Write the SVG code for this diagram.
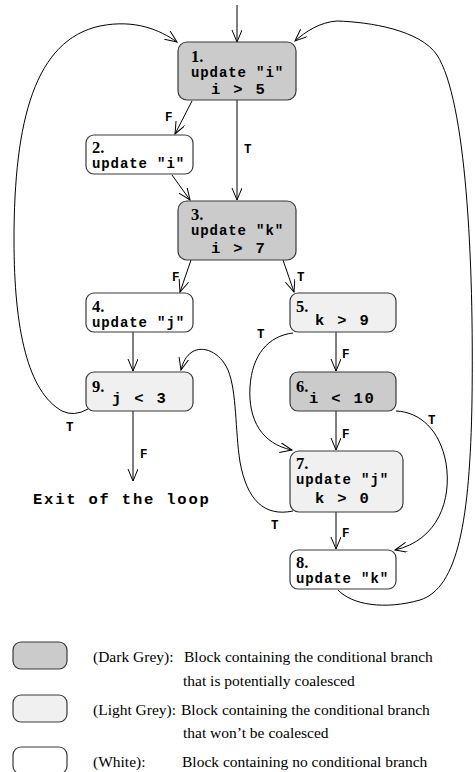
<svg xmlns="http://www.w3.org/2000/svg" width="475" height="772" viewBox="0 0 475 772">
  <style>
    .blk { stroke: #3a3a3a; stroke-width: 1.2; }
    .dark { fill: #cbcbcb; }
    .light { fill: #f0f0f0; }
    .white { fill: #ffffff; }
    .num { font-family: "Liberation Serif", serif; font-weight: bold; font-size: 16.5px; fill: #000; }
    .code { font-family: "Liberation Mono", monospace; font-weight: bold; font-size: 14px; letter-spacing: 0.9px; fill: #000; }
    .cond { font-family: "Liberation Mono", monospace; font-weight: bold; font-size: 15.5px; letter-spacing: 1.8px; fill: #000; }
    .lbl { font-family: "Liberation Mono", monospace; font-weight: bold; font-size: 12.5px; fill: #000; }
    .leg { font-family: "Liberation Serif", serif; font-size: 15.5px; fill: #000; }
    .edge { fill: none; stroke: #000; stroke-width: 1; marker-end: url(#arrow); }
  </style>
  <defs>
    <marker id="arrow" markerUnits="userSpaceOnUse" markerWidth="14" markerHeight="12" refX="12" refY="5" orient="auto">
      <path d="M0,0 L12,5 L0,10" fill="none" stroke="#000" stroke-width="1"/>
    </marker>
  </defs>

  <!-- connectors -->
  <g id="edges">
    <path class="edge" d="M237,5 L237,42"/>
    <path class="edge" d="M192,101 L175,134"/>
    <path class="edge" d="M237,100 L237,200"/>
    <path class="edge" d="M172,175 L190,200"/>
    <path class="edge" d="M191,260 L180,292"/>
    <path class="edge" d="M283,260 L294,292"/>
    <path class="edge" d="M133,332 L133,371"/>
    <path class="edge" d="M133,411 L133,481"/>
    <path class="edge" d="M336,332 L336,371"/>
    <path class="edge" d="M336,411 L336,450"/>
    <path class="edge" d="M336,512 L336,549"/>
    <!-- 9 -> 1 (T) -->
    <path class="edge" d="M88,409 Q74,417 62,411 C28,392 14,330 14,240 C14,120 35,40 100,26 C135,19 160,30 177,42"/>
    <!-- 8 -> 1 -->
    <path class="edge" d="M338,590 C352,605 385,610 420,600 C458,588 470,520 472,400 C474,260 466,100 437,55 C420,30 370,22 337,21 C320,22 305,32 295,41"/>
    <!-- 5 -> 7 (T) -->
    <path class="edge" d="M293,333 C268,336 252,355 250,387 C248,420 262,444 292,450"/>
    <!-- 6 -> 8 (T) -->
    <path class="edge" d="M396,411 C420,412 440,430 446,463 C452,500 438,540 395,550"/>
    <!-- 7 -> 9 (T) -->
    <path class="edge" d="M293,511 C264,517 247,500 240,462 C235,430 237,392 228,370 C220,352 203,345 192,352 C186,356 183,362 181,370"/>
    <!-- branch labels -->
    <text class="lbl" x="165" y="121">F</text>
    <text class="lbl" x="244" y="153">T</text>
    <text class="lbl" x="172" y="281">F</text>
    <text class="lbl" x="297" y="281">T</text>
    <text class="lbl" x="66" y="431">T</text>
    <text class="lbl" x="140" y="458">F</text>
    <text class="lbl" x="257" y="338">T</text>
    <text class="lbl" x="342" y="358">F</text>
    <text class="lbl" x="342" y="438">F</text>
    <text class="lbl" x="428" y="424">T</text>
    <text class="lbl" x="271" y="529">T</text>
    <text class="lbl" x="342" y="537">F</text>
  </g>

  <g id="node1">
    <rect class="blk dark" x="178" y="42" width="118" height="58" rx="9"/>
    <text class="num" x="191" y="62">1.</text>
    <text class="code" x="191" y="77">update "i"</text>
    <text class="cond" x="211" y="94">i &gt; 5</text>
  </g>
  <g id="node2">
    <rect class="blk white" x="86" y="135" width="107" height="39" rx="8"/>
    <text class="num" x="92" y="153">2.</text>
    <text class="code" x="92" y="168">update "i"</text>
  </g>
  <g id="node3">
    <rect class="blk dark" x="178" y="201" width="118" height="59" rx="9"/>
    <text class="num" x="191" y="220">3.</text>
    <text class="code" x="191" y="235">update "k"</text>
    <text class="cond" x="211" y="253">i &gt; 7</text>
  </g>
  <g id="node4">
    <rect class="blk white" x="86" y="293" width="107" height="39" rx="8"/>
    <text class="num" x="92" y="312">4.</text>
    <text class="code" x="92" y="327">update "j"</text>
  </g>
  <g id="node5">
    <rect class="blk light" x="290" y="293" width="106" height="39" rx="8"/>
    <text class="num" x="296" y="312">5.</text>
    <text class="cond" x="315" y="325">k &gt; 9</text>
  </g>
  <g id="node6">
    <rect class="blk dark" x="290" y="372" width="106" height="39" rx="8"/>
    <text class="num" x="296" y="392">6.</text>
    <text class="cond" x="309" y="403">i &lt; 10</text>
  </g>
  <g id="node7">
    <rect class="blk light" x="290" y="451" width="113" height="61" rx="9"/>
    <text class="num" x="296" y="469">7.</text>
    <text class="code" x="296" y="484">update "j"</text>
    <text class="cond" x="315" y="503">k &gt; 0</text>
  </g>
  <g id="node8">
    <rect class="blk white" x="290" y="550" width="106" height="39" rx="8"/>
    <text class="num" x="296" y="568">8.</text>
    <text class="code" x="296" y="583">update "k"</text>
  </g>
  <g id="node9">
    <rect class="blk light" x="86" y="372" width="107" height="39" rx="8"/>
    <text class="num" x="92" y="392">9.</text>
    <text class="cond" x="112" y="403">j &lt; 3</text>
  </g>
  <g id="exit">
    <text class="cond" x="33" y="504">Exit of the loop</text>
  </g>

  <g id="legend">
    <rect class="blk dark" x="13" y="642" width="54" height="27" rx="8"/>
    <rect class="blk light" x="13" y="695" width="54" height="27" rx="8"/>
    <rect class="blk white" x="13" y="747" width="54" height="27" rx="8"/>
    <text class="leg" x="93" y="662">(Dark Grey):</text>
    <text class="leg" x="184" y="662">Block containing the conditional branch</text>
    <text class="leg" x="183" y="686">that is potentially coalesced</text>
    <text class="leg" x="93" y="715">(Light Grey):</text>
    <text class="leg" x="181" y="715">Block containing the conditional branch</text>
    <text class="leg" x="183" y="738">that won’t be coalesced</text>
    <text class="leg" x="93" y="767">(White):</text>
    <text class="leg" x="182" y="767">Block containing no conditional branch</text>
  </g>
</svg>
